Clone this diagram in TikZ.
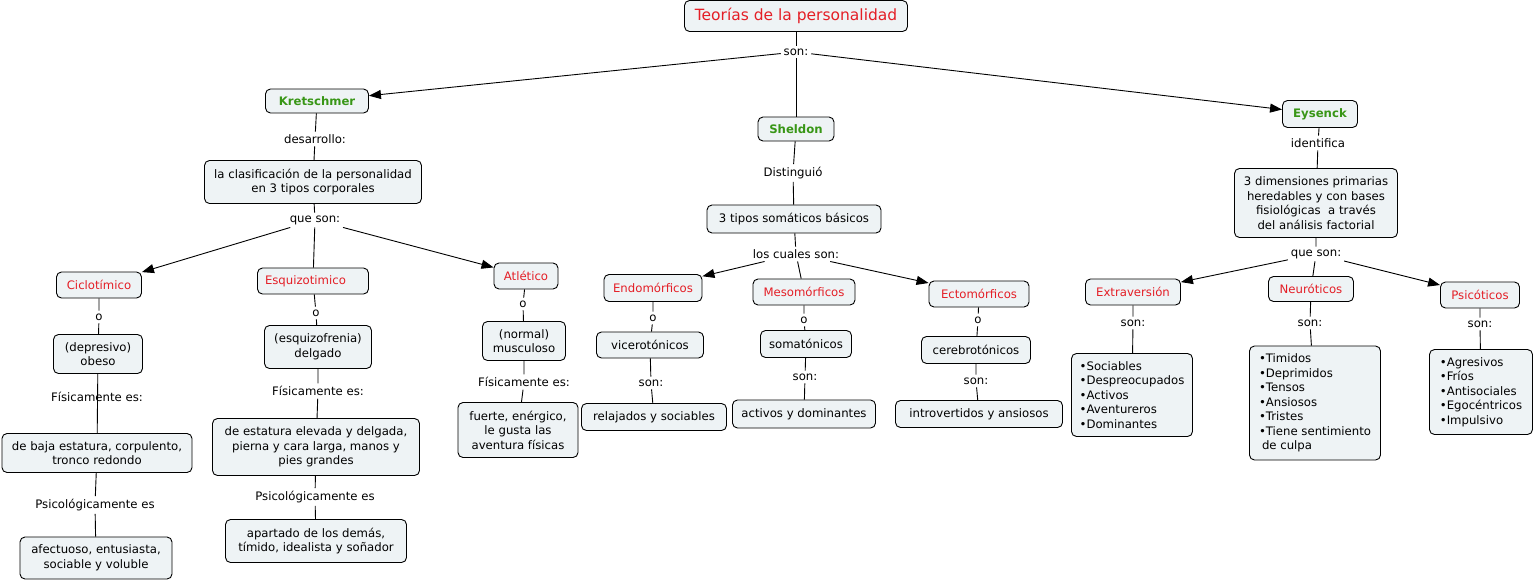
\documentclass[tikz,border=0pt]{standalone}
\usepackage{fontspec}
\setmainfont{DejaVu Sans}
\usetikzlibrary{arrows.meta}
\definecolor{boxfill}{RGB}{238,243,245}
\definecolor{cred}{RGB}{228,30,38}
\definecolor{cgreen}{RGB}{56,150,22}
\newcommand{\bodyf}{\fontsize{11.7}{14.5}\selectfont}
\begin{document}
\begin{tikzpicture}[x=1pt,y=-1pt,line width=0.9pt,
 box/.style={draw, rounded corners=5pt, fill=boxfill, inner sep=2pt, font=\bodyf, align=center},
 lbl/.style={inner sep=2.5pt, font=\bodyf},
 rn/.style={text=cred},
 gn/.style={text=cgreen, font=\bodyf\bfseries},
 arr/.style={-{Triangle[length=12pt,width=9pt]}}]
\useasboundingbox (0,0) rectangle (1535,582);
% top
\node[box, minimum width=223, minimum height=31, font=\fontsize{15.5}{18}\selectfont, text=cred] (title) at (796,16) {Teorías de la personalidad};
\node[lbl] (son0) at (796,52) {son:};
\node[box,gn,minimum width=103,minimum height=24] (kret) at (317,101) {Kretschmer};
\node[box,gn,minimum width=76,minimum height=24] (shel) at (796,129) {Sheldon};
\node[box,gn,minimum width=75,minimum height=27] (eys) at (1320,114) {Eysenck};
% Kretschmer
\node[lbl] (desa) at (315,139) {desarrollo:};
\node[box,minimum width=217,minimum height=43] (clas) at (313,182) {la clasificación de la personalidad\\en 3 tipos corporales};
\node[lbl] (que1) at (315,220) {que son:};
\node[box,rn,minimum width=85,minimum height=26] (cicl) at (99,285) {Ciclotímico};
\node[box,rn,minimum width=111,minimum height=26,text width=96,align=left] (esqz) at (313,281) {Esquizotimico};
\node[box,rn,minimum width=64,minimum height=26] (atle) at (526,276) {Atlético};
\node[lbl] (o1) at (99,317) {o};
\node[box,minimum width=89,minimum height=39] (obes) at (98,354) {(depresivo)\\obeso};
\node[box,minimum width=190,minimum height=39] (baja) at (97,453) {de baja estatura, corpulento,\\tronco redondo};
\node[lbl] (psi1) at (95,505) {Psicológicamente es};
\node[box,minimum width=152,minimum height=42] (afec) at (96,558) {afectuoso, entusiasta,\\sociable y voluble};
\node[lbl] (o2) at (316,313) {o};
\node[box,minimum width=107,minimum height=43] (delg) at (318,347) {(esquizofrenia)\\delgado};
\node[lbl] (fis2) at (318,391) {Físicamente es:};
\node[box,minimum width=207,minimum height=57] (elev) at (316,447) {de estatura elevada y delgada,\\pierna y cara larga, manos y\\pies grandes};
\node[lbl] (psi2) at (315,497) {Psicológicamente es};
\node[box,minimum width=181,minimum height=43] (apar) at (316,541) {apartado de los demás,\\tímido, idealista y soñador};
\node[lbl] (o3) at (523,304) {o};
\node[box,minimum width=83,minimum height=39] (musc) at (524,341) {(normal)\\musculoso};
\node[lbl] (fis3) at (524,382) {Físicamente es:};
\node[box,minimum width=120,minimum height=55] (fuer) at (518,430) {fuerte, enérgico,\\le gusta las\\aventura físicas};
% Sheldon
\node[lbl] (dist) at (793,173) {Distinguió};
\node[box,minimum width=174,minimum height=28] (tres) at (794,219) {3 tipos somáticos básicos};
\node[lbl] (cual) at (796,254) {los cuales son:};
\node[box,rn,minimum width=98,minimum height=27] (endo) at (653,288) {Endomórficos};
\node[box,rn,minimum width=102,minimum height=26] (meso) at (804,292) {Mesomórficos};
\node[box,rn,minimum width=100,minimum height=26] (ecto) at (979,294) {Ectomórficos};
\node[lbl] (o4) at (653,318) {o};
\node[box,minimum width=107,minimum height=26] (vice) at (650,345) {vicerotónicos};
\node[lbl] (son4) at (651,383) {son:};
\node[box,minimum width=145,minimum height=27] (rela) at (654,417) {relajados y sociables};
\node[lbl] (o5) at (804,320) {o};
\node[box,minimum width=91,minimum height=27] (soma) at (806,344) {somatónicos};
\node[lbl] (son5) at (805,377) {son:};
\node[box,minimum width=143,minimum height=28] (acti) at (804,414) {activos y dominantes};
\node[lbl] (o6) at (978,320) {o};
\node[box,minimum width=109,minimum height=27] (cere) at (976,350) {cerebrotónicos};
\node[lbl] (son6) at (976,381) {son:};
\node[box,minimum width=167,minimum height=27] (intr) at (979,414) {introvertidos y ansiosos};
% Eysenck
\node[lbl] (iden) at (1318,143) {identifica};
\node[box,minimum width=163,minimum height=69] (dime) at (1316,203) {3 dimensiones primarias\\heredables y con bases\\fisiológicas\ \ a través\\del análisis factorial};
\node[lbl] (que2) at (1316,254) {que son:};
\node[box,rn,minimum width=95,minimum height=26] (extr) at (1133,292) {Extraversión};
\node[box,rn,minimum width=85,minimum height=25] (neur) at (1311,289) {Neuróticos};
\node[box,rn,minimum width=79,minimum height=26] (psic) at (1480,295) {Psicóticos};
\node[lbl] (son7) at (1133,323) {son:};
\node[box,align=left,minimum width=121,minimum height=83] (soci) at (1132,395) {•Sociables\\•Despreocupados\\•Activos\\•Aventureros\\•Dominantes};
\node[lbl] (son8) at (1310,323) {son:};
\node[box,align=left,minimum width=131,minimum height=114] (timi) at (1315,403) {•Timidos\\•Deprimidos\\•Tensos\\•Ansiosos\\•Tristes\\•Tiene sentimiento\\\hspace*{3pt}de culpa};
\node[lbl] (son9) at (1480,324) {son:};
\node[box,align=left,minimum width=103,minimum height=85] (agre) at (1481,392) {•Agresivos\\•Fríos\\•Antisociales\\•Egocéntricos\\•Impulsivo};
% connectors
\draw (title) -- (son0);
\draw[arr] (son0) -- (kret);
\draw (son0) -- (shel);
\draw[arr] (son0) -- (eys);
\draw (kret) -- (desa) -- (clas) -- (que1);
\draw[arr] (que1) -- (cicl);
\draw (que1) -- (esqz);
\draw[arr] (que1) -- (atle);
\draw (cicl) -- (o1) -- (obes);
\draw (obes) -- (baja);
\node[lbl] (fis1) at (97,397) {Físicamente es:};
\draw (baja) -- (psi1) -- (afec);
\draw (esqz) -- (o2) -- (delg) -- (fis2) -- (elev) -- (psi2) -- (apar);
\draw (atle) -- (o3) -- (musc) -- (fis3) -- (fuer);
\draw (shel) -- (dist) -- (tres) -- (cual);
\draw[arr] (cual) -- (endo);
\draw (cual) -- (meso);
\draw[arr] (cual) -- (ecto);
\draw (endo) -- (o4) -- (vice) -- (son4) -- (rela);
\draw (meso) -- (o5) -- (soma) -- (son5) -- (acti);
\draw (ecto) -- (o6) -- (cere) -- (son6) -- (intr);
\draw (eys) -- (iden) -- (dime) -- (que2);
\draw[arr] (que2) -- (extr);
\draw (que2) -- (neur);
\draw[arr] (que2) -- (psic);
\draw (extr) -- (son7) -- (soci);
\draw (neur) -- (son8) -- (timi);
\draw (psic) -- (son9) -- (agre);
\end{tikzpicture}
\end{document}
